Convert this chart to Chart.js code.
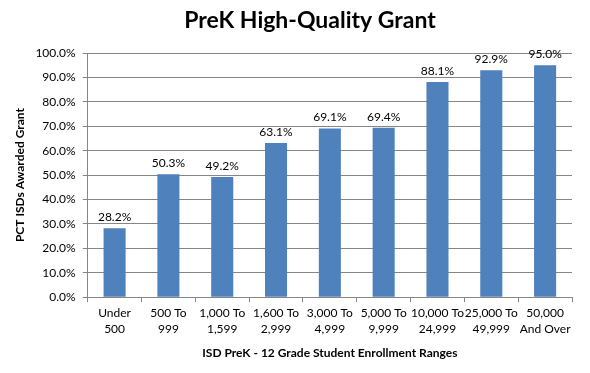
<!DOCTYPE html>
<html>
<head>
<meta charset="utf-8">
<script src="https://cdn.jsdelivr.net/npm/chart.js@4.4.1/dist/chart.umd.min.js"></script>
<style>
  html, body { margin: 0; padding: 0; background: #fff; }
  #wrap { width: 590px; height: 373px; }
</style>
</head>
<body>
<div id="wrap"><canvas id="myChart" width="590" height="373"></canvas></div>
<script>
const categories = [
   ['Under', '500'],
   ['500 To', '999'],
   ['1,000 To', '1,599'],
   ['1,600 To', '2,999'],
   ['3,000 To', '4,999'],
   ['5,000 To', '9,999'],
   ['10,000 To', '24,999'],
   ['25,000 To', '49,999'],
   ['50,000', 'And Over']
];
const pctAwarded = [28.2, 50.3, 49.2, 63.1, 69.1, 69.4, 88.1, 92.9, 95.0];

const FONT = 'Lato, "Open Sans", sans-serif';

// value labels above each bar
const barLabels = {
   id: 'barLabels',
   afterDatasetsDraw(chart) {
      const ctx = chart.ctx;
      const meta = chart.getDatasetMeta(0);
      ctx.save();
      ctx.font = '12px ' + FONT;
      ctx.fillStyle = '#000';
      ctx.textAlign = 'center';
      ctx.textBaseline = 'bottom';
      meta.data.forEach((bar, i) => {
         ctx.fillText(pctAwarded[i].toFixed(1) + '%', bar.x, bar.y - 5);
      });
      ctx.restore();
   }
};

// title drawn a bit right of canvas centre, like the original
const chartTitle = {
   id: 'chartTitle',
   afterDraw(chart) {
      const ctx = chart.ctx;
      ctx.save();
      ctx.font = 'bold 23px ' + FONT;
      ctx.fillStyle = '#000';
      ctx.textAlign = 'center';
      ctx.textBaseline = 'middle';
      ctx.fillText('PreK High-Quality Grant', 310, 21);
      ctx.restore();
   }
};

const data = {
   labels: categories,
   datasets: [{
      label: 'PCT ISDs Awarded Grant',
      backgroundColor: '#4F81BD',
      borderWidth: 0,
      data: pctAwarded,
      barPercentage: 0.41,
      categoryPercentage: 1.0
   }]
};

const config = {
   type: 'bar',
   data: data,
   options: {
      responsive: false,
      animation: false,
      layout: { padding: { top: 53, right: 18, bottom: 13, left: 13 } },
      plugins: {
         legend: { display: false },
         title: { display: false },
         tooltip: { enabled: false }
      },
      scales: {
         x: {
            grid: {
               drawOnChartArea: false,
               color: '#868686',
               tickLength: 5,
               offset: true
            },
            border: { color: '#868686' },
            ticks: {
               color: '#000',
               font: { family: FONT, size: 12, lineHeight: 1.35 },
               maxRotation: 0,
               autoSkip: false,
               padding: 3
            },
            title: {
               display: true,
               text: 'ISD PreK - 12 Grade Student Enrollment Ranges',
               color: '#000',
               font: { family: FONT, size: 12, weight: 'bold' },
               padding: { top: 5, bottom: 0 }
            }
         },
         y: {
            min: 0,
            max: 100,
            grid: { color: '#868686', tickLength: 5 },
            border: { color: '#868686' },
            ticks: {
               stepSize: 10,
               color: '#000',
               font: { family: FONT, size: 12 },
               padding: 7,
               callback: v => v.toFixed(1) + '%'
            },
            title: {
               display: true,
               text: 'PCT ISDs Awarded Grant',
               color: '#000',
               font: { family: FONT, size: 12, weight: 'bold' },
               padding: { top: 0, bottom: 1 }
            }
         }
      }
   },
   plugins: [barLabels, chartTitle]
};

const myChart = new Chart(document.getElementById('myChart'), config);
</script>
</body>
</html>
